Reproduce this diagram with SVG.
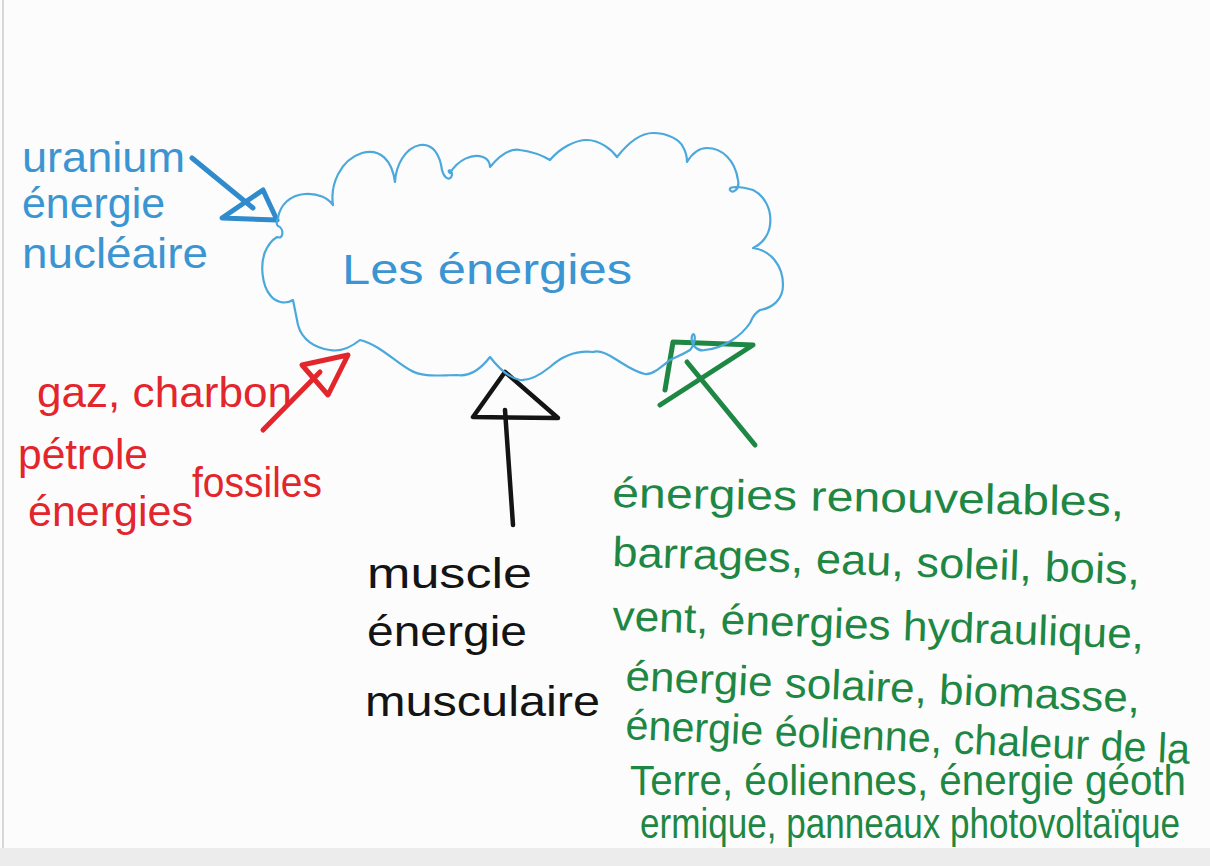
<svg xmlns="http://www.w3.org/2000/svg" width="1210" height="866" viewBox="0 0 1210 866">
<style>
.t{font-family:"Liberation Sans","Noto Sans",sans-serif;font-size:42px;}
.blue{fill:#3a95d2;}
.red{fill:#e2262c;}
.blk{fill:#141414;}
.grn{fill:#1e8743;}
.pen{fill:none;stroke-linecap:round;stroke-linejoin:round;}
</style>
<rect x="0" y="0" width="1210" height="866" fill="#fcfcfc"/>
<rect x="0" y="848" width="1210" height="18" fill="#ececec"/>
<line x1="3" y1="0" x2="3" y2="848" stroke="#d8d8d8" stroke-width="2"/>

<g id="connectors">
  <g id="arrow-nucleaire" class="pen" stroke="#2f8bcb" stroke-width="5">
    <line x1="192" y1="158" x2="253" y2="208"/>
    <polygon points="222,218 263,190 277,220"/>
  </g>
  <g id="arrow-fossiles" class="pen" stroke="#e2262c" stroke-width="5">
    <line x1="263" y1="430" x2="320" y2="372"/>
    <polygon points="302,365 348,355 328,395"/>
  </g>
  <g id="arrow-musculaire" class="pen" stroke="#141414" stroke-width="4.5">
    <line x1="513" y1="525" x2="505" y2="410"/>
    <polygon points="505,372 473,417 558,418"/>
  </g>
  <g id="arrow-renouvelables" class="pen" stroke="#1e8743" stroke-width="5">
    <polyline points="665,390 673,342 753,345 660,405"/>
    <line x1="687" y1="362" x2="755" y2="445"/>
  </g>
</g>

<g id="center">
  <path class="pen" stroke="#4aa8dc" stroke-width="2.2" d="M278,218 C280,205 290,195 305,194 C318,193 328,198 333,205 C330,185 340,160 362,153 C380,148 392,160 395,182 C396,165 405,148 420,145 C433,143 440,155 442,170 C444,178 450,182 452,175 C452,168 446,170 450,173 C458,160 472,153 483,157 C488,159 490,163 490,167 C500,155 510,148 520,150 C535,152 545,157 550,160 C560,148 575,140 587,140 C600,140 612,150 617,157 C628,143 640,133 653,133 C668,133 680,140 683,147 C686,152 687,158 687,162 C693,152 700,148 707,148 C722,148 735,160 738,180 C740,190 732,194 730,190 C728,186 740,186 753,190 C765,196 772,210 770,225 C769,235 762,244 753,248 C770,250 783,265 783,285 C783,300 772,308 760,310 C752,315 752,320 750,323 C742,335 725,348 705,350 C698,352 690,345 692,336 C694,330 698,340 690,350 C682,355 676,357 670,360 C660,368 652,375 645,374 C635,372 625,365 617,360 C605,352 598,350 593,352 C575,350 560,358 550,367 C540,375 530,381 520,380 C510,378 500,370 490,357 C480,370 470,377 457,375 C440,375 423,378 410,370 C395,362 380,345 360,340 C350,348 340,352 330,350 C315,348 302,340 298,325 C296,315 294,305 293,300 C285,305 275,302 270,295 C262,285 260,265 265,252 C268,245 272,240 277,237 C284,240 284,228 278,226 C276,224 277,220 278,218 Z"/>
  <text class="t blue" x="342" y="284" font-size="48" textLength="290" lengthAdjust="spacingAndGlyphs">Les énergies</text>
</g>

<g id="nucleaire">
  <text class="t blue" x="22" y="172" textLength="163" lengthAdjust="spacingAndGlyphs">uranium</text>
  <text class="t blue" x="22" y="218" textLength="143" lengthAdjust="spacingAndGlyphs">énergie</text>
  <text class="t blue" x="22" y="268" textLength="186" lengthAdjust="spacingAndGlyphs">nucléaire</text>
</g>

<g id="fossiles">
  <text class="t red" x="37" y="407" textLength="255" lengthAdjust="spacingAndGlyphs">gaz, charbon</text>
  <text class="t red" x="18" y="469" textLength="130" lengthAdjust="spacingAndGlyphs">pétrole</text>
  <text class="t red" x="28" y="526" textLength="165" lengthAdjust="spacingAndGlyphs">énergies</text>
  <text class="t red" x="192" y="497" textLength="130" lengthAdjust="spacingAndGlyphs">fossiles</text>
</g>

<g id="musculaire">
  <text class="t blk" x="367" y="588" textLength="165" lengthAdjust="spacingAndGlyphs">muscle</text>
  <text class="t blk" x="367" y="646" textLength="160" lengthAdjust="spacingAndGlyphs">énergie</text>
  <text class="t blk" x="365" y="716" textLength="235" lengthAdjust="spacingAndGlyphs">musculaire</text>
</g>

<g id="renouvelables">
  <text class="t grn" x="612" y="507" transform="rotate(1 612 507)" textLength="512" lengthAdjust="spacingAndGlyphs">énergies renouvelables,</text>
  <text class="t grn" x="612" y="566" transform="rotate(2 612 566)" textLength="528" lengthAdjust="spacingAndGlyphs">barrages, eau, soleil, bois,</text>
  <text class="t grn" x="612" y="630" transform="rotate(2 612 630)" textLength="532" lengthAdjust="spacingAndGlyphs">vent, énergies hydraulique,</text>
  <text class="t grn" x="625" y="690" transform="rotate(2.5 625 690)" textLength="515" lengthAdjust="spacingAndGlyphs">énergie solaire, biomasse,</text>
  <text class="t grn" x="625" y="739" transform="rotate(2.5 625 739)" textLength="565" lengthAdjust="spacingAndGlyphs">énergie éolienne, chaleur de la</text>
  <text class="t grn" x="630" y="795" font-size="40" textLength="556" lengthAdjust="spacingAndGlyphs">Terre, éoliennes, énergie géoth</text>
  <text class="t grn" x="640" y="838" font-size="31" textLength="540" lengthAdjust="spacingAndGlyphs">ermique, panneaux photovoltaïque</text>
</g>
</svg>
